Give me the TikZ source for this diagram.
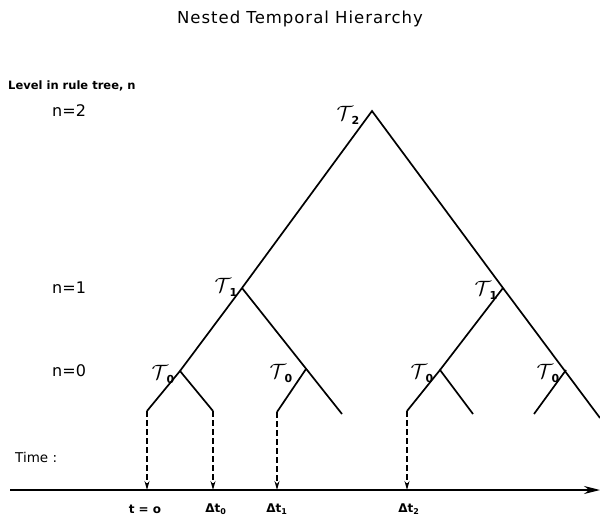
\documentclass[tikz,border=0pt]{standalone}
\usepackage{fontspec}
\setmainfont{DejaVu Sans}
\newfontfamily\titlefont[LetterSpace=6]{DejaVu Sans}
\usetikzlibrary{arrows.meta}
\newcommand\tauT[1]{$\mathcal{T}$\kern-1.5pt\raisebox{-4pt}{\fontsize{11}{11}\selectfont\bfseries #1}}
\begin{document}
\begin{tikzpicture}[x=1pt,y=-1pt,
  branch/.style={line width=1.7pt},
  drop/.style={line width=1.2pt,dashed,dash pattern=on 6pt off 3pt,-{Stealth[length=9pt,width=5pt]}},
  axis/.style={line width=1.3pt,-{Stealth[length=16pt,width=8pt]}},
  lvl/.style={font=\fontsize{16}{18}\selectfont,anchor=west,inner sep=0pt},
  tau/.style={font=\fontsize{20}{22}\selectfont,inner sep=0pt},
  tl/.style={font=\fontsize{12}{14}\selectfont\bfseries,inner sep=0pt}]
\useasboundingbox (0,0) rectangle (600,519);
% title
\node[inner sep=0pt] (title) at (300,19) {\titlefont\fontsize{16.5}{18}\selectfont Nested Temporal Hierarchy};
\node[anchor=west,inner sep=0pt,font=\fontsize{11.5}{13}\selectfont\bfseries] (lev) at (8,86) {Level in rule tree, n};
\node[lvl] (n2) at (52,111) {n=2};
\node[lvl] (n1) at (52,288) {n=1};
\node[lvl] (n0) at (52,371) {n=0};
\node[anchor=west,inner sep=0pt,font=\fontsize{13.5}{15}\selectfont] (time) at (15,457) {Time :};
% tree points
\coordinate (r) at (372,111);
\coordinate (a) at (242,288);
\coordinate (b) at (503,288);
\coordinate (c1) at (180,371);
\coordinate (c2) at (306,369);
\coordinate (c3) at (440,370);
\coordinate (c4) at (566,370);
\coordinate (l1) at (147,411);
\coordinate (l2) at (213,411);
\coordinate (l3) at (277,412);
\coordinate (l4) at (342,414);
\coordinate (l5) at (407,411);
\coordinate (l6) at (473,414);
\coordinate (l7) at (534,414);
\coordinate (l8) at (600,418);
\draw[branch] (c1) -- (a) -- (r) -- (b) -- (l8);
\draw[branch] (a) -- (l4);
\draw[branch] (b) -- (c3);
\draw[branch] (l1) -- (c1) -- (l2);
\draw[branch] (l3) -- (c2);
\draw[branch] (l5) -- (c3) -- (l6);
\draw[branch] (l7) -- (c4);
% tau labels
\node[tau] (t2) at (348,115) {\tauT{2}};
\node[tau] (t1a) at (226,287) {\tauT{1}};
\node[tau] (t1b) at (486,290) {\tauT{1}};
\node[tau] (t0a) at (163,374) {\tauT{0}};
\node[tau] (t0b) at (281,373) {\tauT{0}};
\node[tau] (t0c) at (422,373) {\tauT{0}};
\node[tau] (t0d) at (548,373) {\tauT{0}};
% axis
\coordinate (ax0) at (10,490);
\coordinate (ax1) at (600,490);
\draw[axis] (ax0) -- (ax1);
\coordinate (d1) at (147,490);
\coordinate (d2) at (213,490);
\coordinate (d3) at (277,490);
\coordinate (d5) at (407,490);
\draw[drop] (l1) -- (d1);
\draw[drop] (l2) -- (d2);
\draw[drop] (l3) -- (d3);
\draw[drop] (l5) -- (d5);
\node[tl] (tz) at (145,509) {t = o};
\node[tl] (dt0) at (216,509) {Δt\textsubscript{0}};
\node[tl] (dt1) at (277,509) {Δt\textsubscript{1}};
\node[tl] (dt2) at (409,509) {Δt\textsubscript{2}};
\end{tikzpicture}
\end{document}
